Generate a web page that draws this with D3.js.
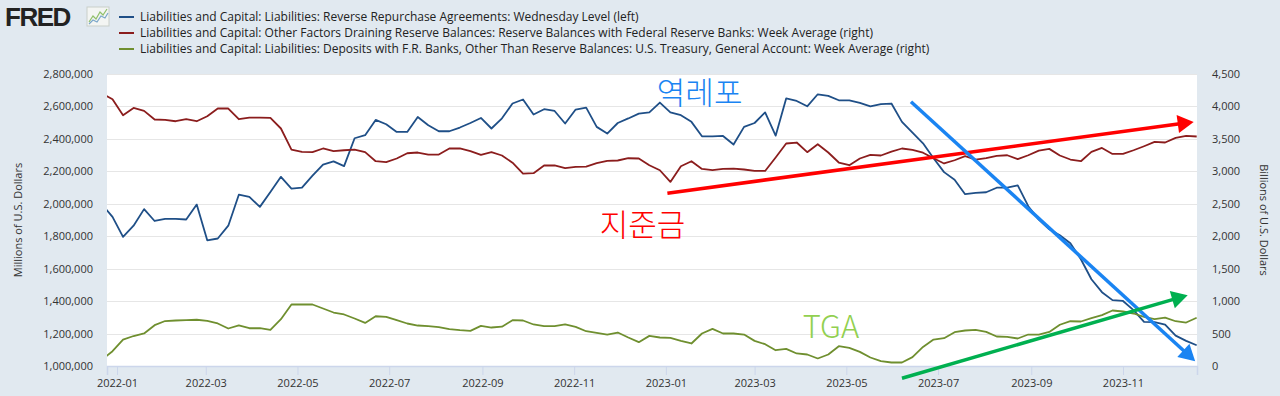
<!DOCTYPE html>
<html>
<head>
<meta charset="utf-8">
<script src="https://cdn.jsdelivr.net/npm/d3@7"></script>
<style>
  html, body { margin: 0; padding: 0; background: #e1e9f0; }
  svg { display: block; font-family: 'Open Sans', 'Noto Sans', sans-serif; }
</style>
</head>
<body>
<div id="main"></div>
<script>
// weekly observations, Wednesdays from 2021-12-22 to 2023-12-20
const firstWeek = new Date(Date.UTC(2021, 11, 22));
const lastWeek = new Date(Date.UTC(2023, 11, 21));

// Reverse repos, millions of dollars (left axis)
const reverseRepo = [
  1997000, 1919000, 1796000, 1865000, 1967000, 1894000, 1907000, 1907000, 1903000, 1995000,
  1775000, 1786000, 1865000, 2056000, 2042000, 1981000, 2073000, 2166000, 2094000, 2100000,
  2173000, 2242000, 2261000, 2232000, 2404000, 2423000, 2517000, 2490000, 2443000, 2443000,
  2535000, 2484000, 2447000, 2447000, 2470000, 2498000, 2529000, 2464000, 2527000, 2618000,
  2643000, 2550000, 2583000, 2572000, 2495000, 2581000, 2593000, 2474000, 2433000, 2498000,
  2526000, 2556000, 2563000, 2624000, 2563000, 2546000, 2505000, 2416000, 2416000, 2418000,
  2365000, 2474000, 2498000, 2563000, 2420000, 2649000, 2634000, 2601000, 2675000, 2665000,
  2638000, 2638000, 2622000, 2601000, 2614000, 2618000, 2505000, 2438000, 2373000, 2281000,
  2195000, 2148000, 2059000, 2067000, 2071000, 2099000, 2100000, 2114000, 1985000, 1902000,
  1843000, 1806000, 1757000, 1658000, 1535000, 1455000, 1406000, 1401000, 1344000, 1272000,
  1270000, 1255000, 1187000, 1155000, 1128000,
];

// Reserve balances, billions of dollars (right axis)
const reserves = [
  4200, 4111, 3865, 3977, 3931, 3799, 3792, 3772, 3803, 3772,
  3849, 3968, 3968, 3803, 3829, 3829, 3823, 3660, 3336, 3299,
  3295, 3352, 3310, 3325, 3336, 3295, 3156, 3141, 3198, 3279,
  3290, 3259, 3259, 3352, 3352, 3310, 3253, 3295, 3244, 3133,
  2966, 2971, 3090, 3090, 3048, 3068, 3074, 3125, 3161, 3167,
  3202, 3198, 3094, 3017, 2837, 3079, 3156, 3037, 3017, 3037,
  3043, 3028, 3006, 3006, 3213, 3429, 3444, 3295, 3418, 3290,
  3136, 3094, 3198, 3253, 3244, 3305, 3352, 3330, 3287, 3202,
  3121, 3171, 3233, 3182, 3202, 3238, 3248, 3187, 3248, 3318,
  3346, 3244, 3182, 3156, 3299, 3361, 3268, 3268, 3325, 3387,
  3453, 3444, 3515, 3546, 3537,
];

// Treasury general account, billions of dollars (right axis)
const treasuryAccount = [
  97, 228, 405, 462, 501, 629, 693, 701, 706, 713,
  695, 655, 578, 626, 582, 582, 556, 721, 948, 948,
  948, 886, 824, 794, 732, 664, 767, 757, 706, 655,
  624, 613, 598, 567, 552, 541, 618, 593, 606, 706,
  701, 640, 613, 613, 640, 603, 536, 510, 485, 516,
  439, 367, 464, 439, 433, 387, 347, 501, 572, 501,
  501, 485, 387, 336, 243, 264, 193, 177, 116, 177,
  305, 279, 217, 131, 74, 54, 54, 136, 294, 408,
  428, 521, 547, 556, 525, 455, 448, 424, 485, 485,
  525, 636, 690, 686, 737, 783, 855, 840, 809, 757,
  721, 747, 690, 670, 744,
];

const seriesNames = [
  'Liabilities and Capital: Liabilities: Reverse Repurchase Agreements: Wednesday Level (left)',
  'Liabilities and Capital: Other Factors Draining Reserve Balances: Reserve Balances with Federal Reserve Banks: Week Average (right)',
  'Liabilities and Capital: Liabilities: Deposits with F.R. Banks, Other Than Reserve Balances: U.S. Treasury, General Account: Week Average (right)',
];
const seriesColors = ['#1f4f87', '#8b1d1d', '#6f8f2f'];

const leftTicks = [1000000, 1200000, 1400000, 1600000, 1800000, 2000000, 2200000, 2400000, 2600000, 2800000];
const rightTicks = [0, 500, 1000, 1500, 2000, 2500, 3000, 3500, 4000, 4500];

// hand drawn notes, placed in date / right-axis units
const noteLabels = [
  { text: '역레포', date: '2022-12-26', value: 4034, color: '#1a84f2' },
  { text: '지준금', date: '2022-11-18', value: 2000, color: '#ff0000' },
  { text: 'TGA', date: '2023-04-02', value: 428, color: '#92d050' },
];
const noteArrows = [
  { from: ['2023-01-02', 2663], to: ['2023-12-18', 3762], color: '#ff0000' },
  { from: ['2023-06-13', 4073], to: ['2023-12-19', 74], color: '#1a84f2' },
  { from: ['2023-06-07', -188], to: ['2023-12-14', 1091], color: '#00b050' },
];

const width = 1280;
const height = 396;
const plot = { left: 107, right: 1197, top: 74, bottom: 366 };

const weeks = d3.utcWednesday.range(firstWeek, lastWeek);

const x = d3.scaleUtc()
  .domain([new Date(Date.UTC(2021, 11, 25, 8)), new Date(Date.UTC(2023, 11, 20, 5))])
  .range([plot.left, plot.right]);

const yLeft = d3.scaleLinear()
  .domain([1000000, 2800000])
  .range([plot.bottom, plot.top]);

const yRight = d3.scaleLinear()
  .domain([0, 4500])
  .range([plot.bottom, plot.top]);

const svg = d3.select('#main')
  .append('svg')
  .attr('width', width)
  .attr('height', height);

svg.append('rect')
  .attr('width', width)
  .attr('height', height)
  .attr('fill', '#e1e9f0');

// FRED logo
const logo = svg.append('g');
logo.append('text')
  .attr('x', 5)
  .attr('y', 26)
  .attr('font-family', "'Liberation Sans', Arial, sans-serif")
  .attr('font-weight', 'bold')
  .attr('font-size', 26)
  .attr('letter-spacing', -1.5)
  .attr('fill', '#222')
  .text('FRED');
logo.append('rect')
  .attr('x', 87)
  .attr('y', 7)
  .attr('width', 22)
  .attr('height', 19)
  .attr('fill', '#f3f5f3')
  .attr('stroke', '#c9cfc9');
logo.append('path')
  .attr('d', 'M89,22 L93,16 L96,19 L100,12 L103,15 L107,9')
  .attr('fill', 'none')
  .attr('stroke', '#8fbf6a')
  .attr('stroke-width', 1.2);
logo.append('path')
  .attr('d', 'M89,24 L93,20 L97,22 L101,16 L105,18 L108,13')
  .attr('fill', 'none')
  .attr('stroke', '#7ba7c9')
  .attr('stroke-width', 1.2);

// legend
const legend = svg.append('g');
seriesNames.forEach((name, i) => {
  const ly = 17 + i * 16;
  legend.append('line')
    .attr('x1', 119)
    .attr('x2', 134)
    .attr('y1', ly)
    .attr('y2', ly)
    .attr('stroke', seriesColors[i])
    .attr('stroke-width', 2);
  legend.append('text')
    .attr('x', 140)
    .attr('y', ly)
    .attr('dy', '0.35em')
    .attr('font-size', 12)
    .attr('fill', '#222')
    .text(name);
});

// plot background
svg.append('rect')
  .attr('x', plot.left)
  .attr('y', plot.top)
  .attr('width', plot.right - plot.left)
  .attr('height', plot.bottom - plot.top)
  .attr('fill', '#ffffff');

// grid
svg.append('g')
  .selectAll('line')
  .data(leftTicks)
  .join('line')
  .attr('x1', plot.left)
  .attr('x2', plot.right)
  .attr('y1', (d) => Math.round(yLeft(d)) + 0.5)
  .attr('y2', (d) => Math.round(yLeft(d)) + 0.5)
  .attr('stroke', '#e6e6e6')
  .attr('stroke-width', 1.2);

// left axis
const leftAxis = svg.append('g')
  .attr('transform', `translate(${plot.left - 14},0)`)
  .call(d3.axisLeft(yLeft).tickValues(leftTicks).tickFormat(d3.format(',')).tickSize(0).tickPadding(0));
leftAxis.select('.domain').remove();
leftAxis.selectAll('text')
  .attr('font-size', 11)
  .attr('font-family', "'Open Sans', sans-serif")
  .attr('fill', '#333');

// right axis
const rightAxis = svg.append('g')
  .attr('transform', `translate(${plot.right + 15},0)`)
  .call(d3.axisRight(yRight).tickValues(rightTicks).tickFormat(d3.format(',')).tickSize(0).tickPadding(0));
rightAxis.select('.domain').remove();
rightAxis.selectAll('text')
  .attr('font-size', 11)
  .attr('font-family', "'Open Sans', sans-serif")
  .attr('fill', '#333');

// bottom axis
const bottomAxis = svg.append('g')
  .attr('transform', `translate(0,${plot.bottom})`)
  .call(d3.axisBottom(x).ticks(d3.utcMonth.every(2)).tickFormat(d3.utcFormat('%Y-%m')).tickSize(9).tickPadding(4));
bottomAxis.select('.domain')
  .attr('stroke', '#ccd6eb')
  .attr('stroke-width', 1.5);
bottomAxis.selectAll('.tick line')
  .attr('stroke', '#ccd6eb');
bottomAxis.selectAll('text')
  .attr('font-size', 11)
  .attr('font-family', "'Open Sans', sans-serif")
  .attr('fill', '#333');

// axis titles
svg.append('text')
  .attr('transform', `translate(22,${(plot.top + plot.bottom) / 2}) rotate(-90)`)
  .attr('text-anchor', 'middle')
  .attr('font-size', 11)
  .attr('fill', '#333')
  .text('Millions of U.S. Dollars');

svg.append('text')
  .attr('transform', `translate(1260,${(plot.top + plot.bottom) / 2}) rotate(90)`)
  .attr('text-anchor', 'middle')
  .attr('font-size', 11)
  .attr('fill', '#333')
  .text('Billions of U.S. Dollars');

// series
svg.append('clipPath')
  .attr('id', 'plot-clip')
  .append('rect')
  .attr('x', plot.left)
  .attr('y', plot.top - 2)
  .attr('width', plot.right - plot.left)
  .attr('height', plot.bottom - plot.top + 2);

const lines = svg.append('g').attr('clip-path', 'url(#plot-clip)');

const series = [
  { values: reverseRepo, scale: yLeft },
  { values: reserves, scale: yRight },
  { values: treasuryAccount, scale: yRight },
];

series.forEach((s, i) => {
  const line = d3.line()
    .x((d, j) => x(weeks[j]))
    .y((d) => s.scale(d));
  lines.append('path')
    .attr('d', line(s.values))
    .attr('fill', 'none')
    .attr('stroke', seriesColors[i])
    .attr('stroke-width', 1.8)
    .attr('stroke-linejoin', 'round');
});

// notes on top
const notes = svg.append('g');
const parseDay = d3.utcParse('%Y-%m-%d');

noteLabels.forEach((n) => {
  notes.append('text')
    .attr('x', x(parseDay(n.date)))
    .attr('y', yRight(n.value))
    .attr('font-family', "'Noto Sans CJK KR', 'Noto Sans', sans-serif")
    .attr('font-size', 31)
    .attr('font-weight', 300)
    .attr('fill', n.color)
    .text(n.text);
});

noteArrows.forEach((a) => {
  const x1 = x(parseDay(a.from[0]));
  const y1 = yRight(a.from[1]);
  const x2 = x(parseDay(a.to[0]));
  const y2 = yRight(a.to[1]);
  const len = Math.hypot(x2 - x1, y2 - y1);
  const ux = (x2 - x1) / len;
  const uy = (y2 - y1) / len;
  const headLen = 16;
  const headHalf = 9;
  const bx = x2 - ux * headLen;
  const by = y2 - uy * headLen;
  notes.append('line')
    .attr('x1', x1)
    .attr('y1', y1)
    .attr('x2', bx + ux * 2)
    .attr('y2', by + uy * 2)
    .attr('stroke', a.color)
    .attr('stroke-width', 3.5);
  notes.append('path')
    .attr('d', `M${x2},${y2} L${bx - uy * headHalf},${by + ux * headHalf} L${bx + uy * headHalf},${by - ux * headHalf} Z`)
    .attr('fill', a.color);
});
</script>
</body>
</html>
